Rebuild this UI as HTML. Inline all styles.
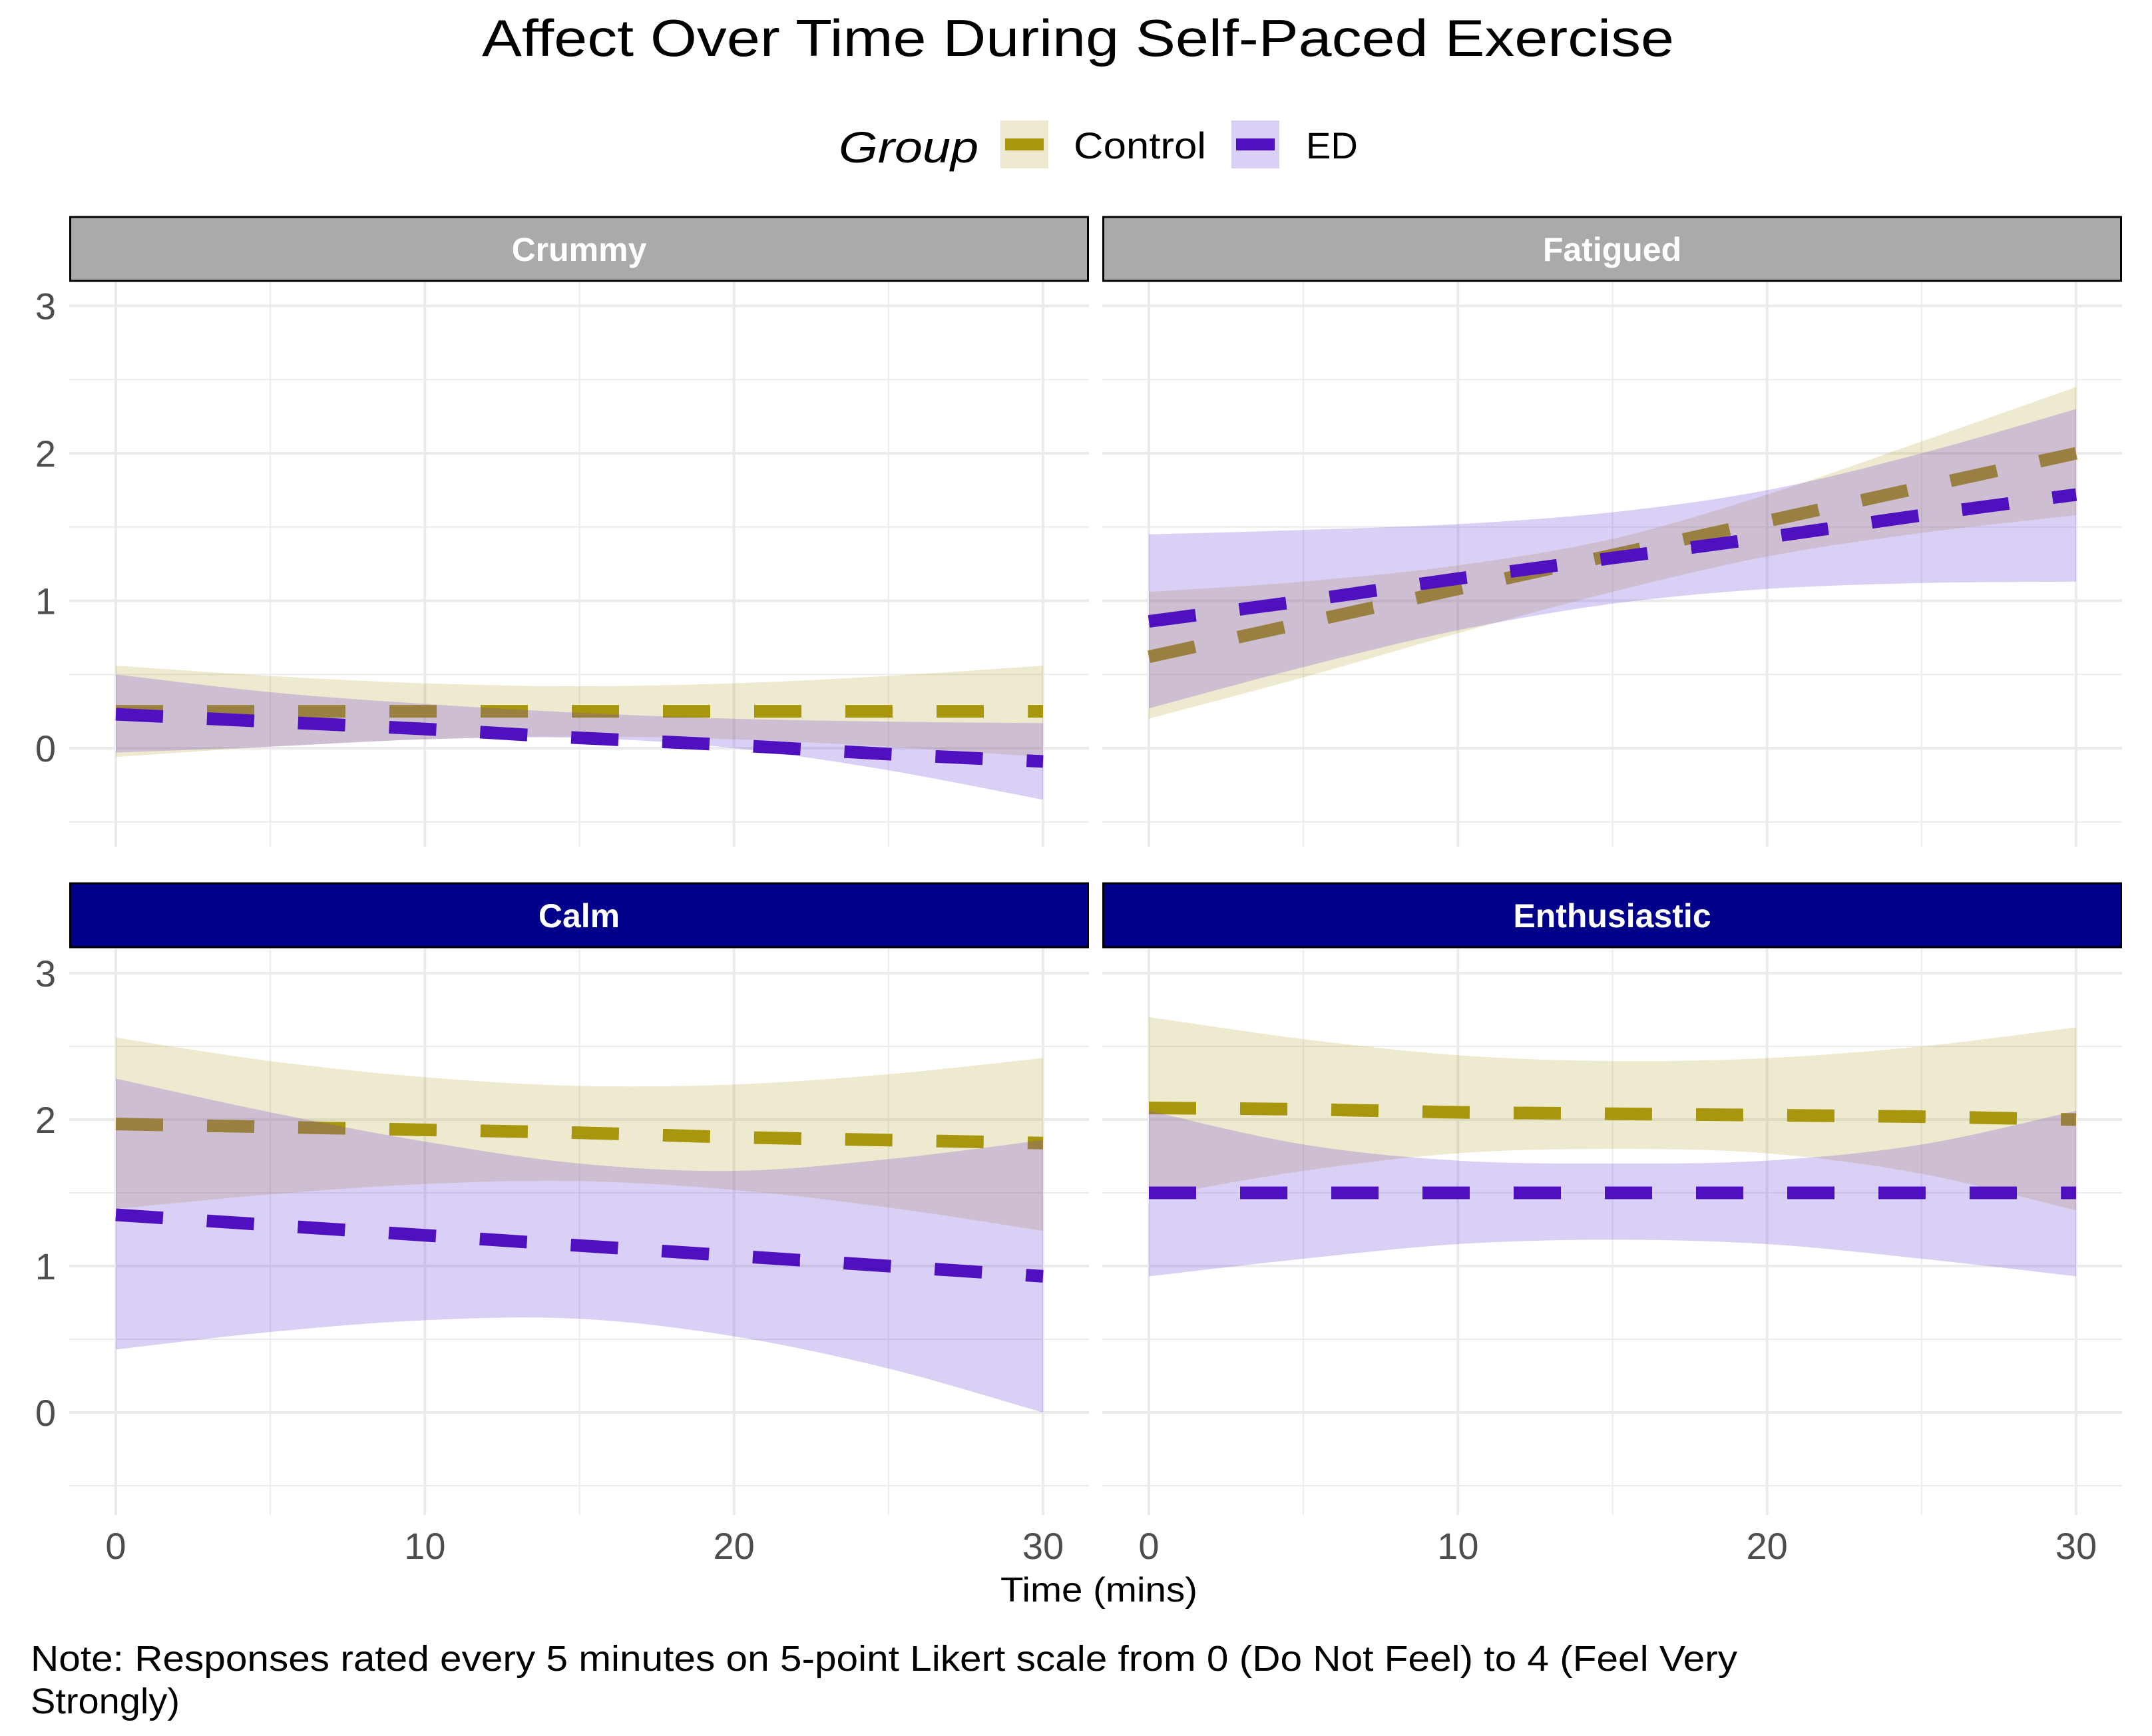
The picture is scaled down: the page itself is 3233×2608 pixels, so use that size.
<!DOCTYPE html>
<html><head><meta charset="utf-8">
<style>
html,body{margin:0;padding:0;background:#fff;}
svg{display:block;font-family:"Liberation Sans",sans-serif;}
</style></head>
<body>
<svg id="chart" width="3233" height="2608" viewBox="0 0 3233 2608" xmlns="http://www.w3.org/2000/svg">
<text x="724" y="84" font-size="78" textLength="1791" lengthAdjust="spacingAndGlyphs" fill="#000">Affect Over Time During Self-Paced Exercise</text>
<g>
<text x="1260" y="244" font-size="66" font-style="italic" fill="#000" textLength="210" lengthAdjust="spacingAndGlyphs">Group</text>
<g>
<rect x="1503" y="181" width="72" height="72" fill="#a8960f" fill-opacity="0.2"/>
<rect x="1510" y="208" width="58" height="18" fill="#a8960f"/>
<text x="1613" y="238" font-size="56" fill="#000" textLength="199" lengthAdjust="spacingAndGlyphs">Control</text>
</g>
<g>
<rect x="1850" y="181" width="72" height="72" fill="#6a3fd6" fill-opacity="0.25"/>
<rect x="1857" y="208" width="58" height="18" fill="#4f10c0"/>
<text x="1962" y="238" font-size="56" fill="#000">ED</text>
</g>
</g>
<g id="panels"></g>
<text x="1503" y="2406" font-size="52" textLength="296" lengthAdjust="spacingAndGlyphs" fill="#000">Time (mins)</text>
<text x="46" y="2510" font-size="54" textLength="2564" lengthAdjust="spacingAndGlyphs" fill="#000">Note: Responses rated every 5 minutes on 5-point Likert scale from 0 (Do Not Feel) to 4 (Feel Very</text>
<text x="46" y="2574" font-size="54" textLength="224" lengthAdjust="spacingAndGlyphs" fill="#000">Strongly)</text>
</svg>
<script>
const times = [0,5,10,15,20,25,30];
const facetNames = ["Crummy","Fatigued","Calm","Enthusiastic"];
const yTicks = [0,1,2,3];
const xTicks = [0,10,20,30];
// Crummy
const crummyCtrlLine = [0.25,0.25,0.25,0.25,0.25,0.25,0.25];
const crummyCtrlUpper = [0.56,0.49,0.44,0.42,0.44,0.49,0.56];
const crummyCtrlLower = [-0.06,0.01,0.06,0.08,0.06,0.01,-0.06];
const crummyEdLine = [0.23,0.18,0.13,0.07,0.02,-0.04,-0.09];
const crummyEdUpper = [0.50,0.38,0.30,0.24,0.20,0.18,0.17];
const crummyEdLower = [-0.03,0.01,0.06,0.07,0.0,-0.15,-0.35];
// Fatigued
const fatCtrlLine = [0.62,0.85,1.08,1.31,1.54,1.77,2.0];
const fatCtrlUpper = [1.06,1.13,1.24,1.42,1.72,2.08,2.45];
const fatCtrlLower = [0.20,0.48,0.78,1.06,1.30,1.46,1.58];
const fatEdLine = [0.86,1.0,1.15,1.29,1.43,1.58,1.72];
const fatEdUpper = [1.45,1.48,1.52,1.60,1.75,2.0,2.30];
const fatEdLower = [0.27,0.55,0.80,0.98,1.08,1.12,1.13];
// Calm
const calmCtrlLine = [1.97,1.95,1.93,1.91,1.88,1.86,1.84];
const calmCtrlUpper = [2.56,2.40,2.29,2.23,2.24,2.31,2.42];
const calmCtrlLower = [1.39,1.49,1.56,1.58,1.52,1.40,1.24];
const calmEdLine = [1.35,1.28,1.21,1.14,1.07,1.00,0.93];
const calmEdUpper = [2.28,2.05,1.85,1.70,1.65,1.73,1.86];
const calmEdLower = [0.43,0.55,0.63,0.64,0.52,0.30,0.0];
// Enthusiastic
const enthCtrlLine = [2.08,2.07,2.05,2.04,2.03,2.02,2.00];
const enthCtrlUpper = [2.70,2.55,2.44,2.40,2.42,2.50,2.63];
const enthCtrlLower = [1.47,1.65,1.77,1.80,1.77,1.63,1.38];
const enthEdLine = [1.5,1.5,1.5,1.5,1.5,1.5,1.5];
const enthEdUpper = [2.06,1.83,1.72,1.70,1.72,1.83,2.06];
const enthEdLower = [0.93,1.05,1.15,1.18,1.15,1.05,0.93];

const facetData = [
 [crummyCtrlLine,crummyCtrlUpper,crummyCtrlLower,crummyEdLine,crummyEdUpper,crummyEdLower],
 [fatCtrlLine,fatCtrlUpper,fatCtrlLower,fatEdLine,fatEdUpper,fatEdLower],
 [calmCtrlLine,calmCtrlUpper,calmCtrlLower,calmEdLine,calmEdUpper,calmEdLower],
 [enthCtrlLine,enthCtrlUpper,enthCtrlLower,enthEdLine,enthEdUpper,enthEdLower]
];

const NS="http://www.w3.org/2000/svg";
const root=document.getElementById('panels');
function mk(tag,attrs,parent){const e=document.createElementNS(NS,tag);for(const k in attrs)e.setAttribute(k,attrs[k]);parent.appendChild(e);return e;}
function smooth(pts){
 let d="M"+pts[0][0]+","+pts[0][1];
 for(let i=0;i<pts.length-1;i++){
  const p0=pts[Math.max(0,i-1)],p1=pts[i],p2=pts[i+1],p3=pts[Math.min(pts.length-1,i+2)];
  const c1=[p1[0]+(p2[0]-p0[0])/6,p1[1]+(p2[1]-p0[1])/6];
  const c2=[p2[0]-(p3[0]-p1[0])/6,p2[1]-(p3[1]-p1[1])/6];
  d+=" C"+c1[0]+","+c1[1]+" "+c2[0]+","+c2[1]+" "+p2[0]+","+p2[1];
 }
 return d;
}
const layouts=[
 {px:104,pw:1532,stripY:326,stripH:96,top:424,bot:1272,y0:1124,unit:221.5,col:0,row:0,strip:"#aaaaaa"},
 {px:1656,pw:1532,stripY:326,stripH:96,top:424,bot:1272,y0:1124,unit:221.5,col:1,row:0,strip:"#aaaaaa"},
 {px:104,pw:1532,stripY:1327,stripH:96,top:1425,bot:2276,y0:2122,unit:220,col:0,row:1,strip:"#00008b"},
 {px:1656,pw:1532,stripY:1327,stripH:96,top:1425,bot:2276,y0:2122,unit:220,col:1,row:1,strip:"#00008b"}
];
facetData.forEach((d,fi)=>{
 const L=layouts[fi];
 const x0=L.px+70, xs=(1567-174)/30;
 const X=t=>x0+t*xs;
 const Y=v=>L.y0-v*L.unit;
 const g=mk('g',{},root);
 
 
 for(let v=-0.5;v<=3.2;v+=1){mk('line',{x1:L.px,x2:L.px+L.pw,y1:Y(v),y2:Y(v),stroke:"#ebebeb","stroke-width":2},g);}
 for(let t=5;t<=25;t+=10){mk('line',{x1:X(t),x2:X(t),y1:L.top,y2:L.bot,stroke:"#ebebeb","stroke-width":2},g);}
 yTicks.forEach(v=>{const l=mk('line',{x1:L.px,x2:L.px+L.pw,y1:Y(v),y2:Y(v),stroke:"#ebebeb","stroke-width":4},g);});
 xTicks.forEach(t=>{const l=mk('line',{x1:X(t),x2:X(t),y1:L.top,y2:L.bot,stroke:"#ebebeb","stroke-width":4},g);});
 const s=mk('rect',{x:L.px+1.5,y:L.stripY,width:L.pw-3,height:L.stripH,fill:L.strip,stroke:"#000","stroke-width":3},g);
 
 
 const st=mk('text',{x:L.px+L.pw/2,y:L.stripY+L.stripH/2+18,"font-size":50,"font-weight":"bold",fill:"#fff","text-anchor":"middle"},g);
 st.textContent=facetNames[fi];
 
 
 const groups=[{line:d[0],up:d[1],lo:d[2],fill:"#a8960f",fo:0.2,stroke:"#a8960f",name:"control"},
               {line:d[3],up:d[4],lo:d[5],fill:"#6a3fd6",fo:0.25,stroke:"#4f10c0",name:"ed"}];
 groups.forEach(gr=>{
  const upPts=times.map((t,i)=>[X(t),Y(gr.up[i])]);
  const loPts=times.map((t,i)=>[X(t),Y(gr.lo[i])]).reverse();
  let p=smooth(upPts)+" L"+loPts[0][0]+","+loPts[0][1]+smooth(loPts).replace(/^M[^ C]+/,"")+" Z";
  const r=mk('path',{d:p,fill:gr.fill,"fill-opacity":gr.fo,stroke:"none"},g);
  
  
  const ln=mk('path',{d:smooth(times.map((t,i)=>[X(t),Y(gr.line[i])])),fill:"none",stroke:gr.stroke,"stroke-width":19,"stroke-dasharray":"71 66"},g);
  
  
 });
 if(L.col===0){
  yTicks.forEach(v=>{const t=mk('text',{x:84,y:Y(v)+20,"font-size":56,fill:"#4d4d4d","text-anchor":"end"},g);t.textContent=v;
   });
 }
 if(L.row===1){
  xTicks.forEach(v=>{const t=mk('text',{x:X(v),y:2342,"font-size":56,fill:"#4d4d4d","text-anchor":"middle"},g);t.textContent=v;
   });
 }
});
</script>
</body></html>
